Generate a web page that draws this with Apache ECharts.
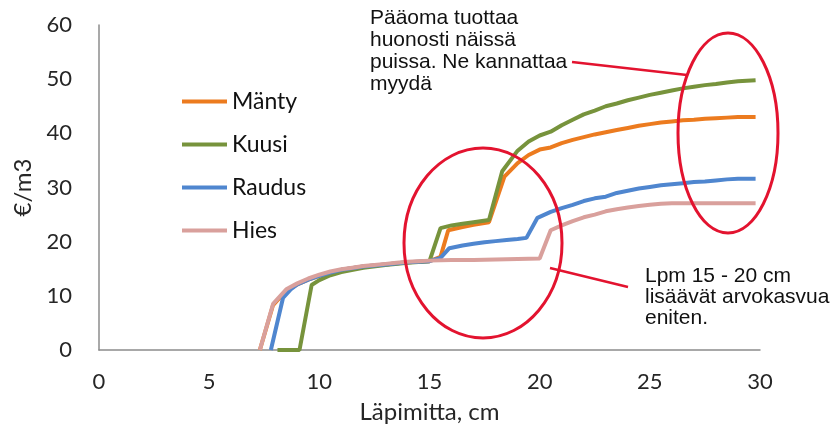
<!DOCTYPE html>
<html>
<head>
<meta charset="utf-8">
<script src="https://cdn.jsdelivr.net/npm/echarts@6/dist/echarts.min.js"></script>
<style>
  html, body { margin: 0; padding: 0; background: #fff; }
  #main { width: 834px; height: 433px; }
</style>
</head>
<body>
<div id="main"></div>
<script>
// läpimitta (cm) ja arvo (€/m3), luettu kuvasta
var manty = [[7.3,0],[7.9,8.3],[8.5,11],[9,12.1],[9.5,13],[10,13.7],[10.5,14.3],[11,14.8],[12,15.4],[13,15.8],[14,16.2],[15,16.4],[15.5,17.2],[15.85,22.1],[16.5,22.7],[17,23.1],[17.7,23.6],[18.4,32],[19,34.5],[19.5,36],[20,37],[20.5,37.4],[21,38.2],[21.5,38.8],[22,39.3],[22.5,39.8],[23,40.2],[23.5,40.6],[24,41],[24.5,41.4],[25,41.7],[25.5,42],[26,42.2],[26.5,42.4],[27,42.5],[27.5,42.7],[28,42.8],[28.5,42.9],[29,43],[29.8,43]];
var kuusi = [[8.1,0],[9.1,0],[9.65,12],[10,12.9],[10.5,13.8],[11,14.4],[12,15.2],[13,15.7],[14,16.1],[15,16.4],[15.5,22.5],[16,23],[16.5,23.3],[17,23.6],[17.7,24],[18.3,33],[19,36.8],[19.5,38.5],[20,39.6],[20.5,40.3],[21,41.5],[21.5,42.5],[22,43.5],[22.5,44.2],[23,45],[23.5,45.5],[24,46.1],[24.5,46.6],[25,47.1],[25.5,47.5],[26,47.9],[26.5,48.3],[27,48.6],[27.5,48.9],[28,49.1],[28.5,49.4],[29,49.6],[29.8,49.8]];
var raudus = [[7.8,0],[8.35,9.6],[8.7,11.2],[9,12.1],[9.5,13],[10,13.7],[10.5,14.3],[11,14.8],[12,15.4],[13,15.8],[14,16.2],[15,16.4],[15.5,17],[15.9,18.8],[16.5,19.3],[17,19.6],[17.5,19.9],[18,20.1],[18.5,20.3],[19,20.5],[19.4,20.7],[19.9,24.4],[20.5,25.5],[21,26.2],[21.5,26.8],[22,27.5],[22.5,28],[23,28.3],[23.5,29],[24,29.4],[24.5,29.8],[25,30.1],[25.5,30.4],[26,30.6],[26.5,30.8],[27,31],[27.5,31.1],[28,31.3],[28.5,31.5],[29,31.6],[29.8,31.6]];
var hies = [[7.3,0],[7.9,8.5],[8.5,11.2],[9,12.3],[9.5,13.2],[10,13.9],[10.5,14.5],[11,14.9],[11.5,15.2],[12,15.5],[12.5,15.7],[13,15.9],[13.5,16.1],[14,16.3],[14.5,16.4],[15,16.5],[16,16.6],[17,16.6],[18,16.7],[19,16.8],[20,16.9],[20.5,22.1],[21,23],[21.5,23.8],[22,24.5],[22.5,25],[23,25.6],[23.5,26],[24,26.3],[24.5,26.6],[25,26.8],[25.5,27],[26,27.1],[27,27.1],[28,27.1],[29,27.1],[29.8,27.1]];
var nimet = ['Mänty', 'Kuusi', 'Raudus', 'Hies'];
var varit = ['#ec7b1f', '#77933c', '#4f86cf', '#d9a09c'];

var myChart = echarts.init(document.getElementById('main'));

var sarjat = [manty, kuusi, raudus, hies].map(function (d, i) {
  return {
    name: nimet[i],
    type: 'line',
    data: d,
    showSymbol: false,
    lineStyle: { width: 4, color: varit[i] },
    itemStyle: { color: varit[i] }
  };
});

var tekstiFontti = '21px "Liberation Sans", Arial, sans-serif';

var option = {
  animation: false,
  backgroundColor: '#fff',
  grid: { left: 99, right: 74, top: 25, bottom: 83 },
  legend: {
    data: nimet,
    orient: 'vertical',
    left: 182,
    top: 90,
    padding: 0,
    icon: 'rect',
    itemWidth: 45,
    itemHeight: 4,
    itemGap: 20,
    textStyle: { fontSize: 23, lineHeight: 22, color: '#111', fontFamily: 'Lato' }
  },
  xAxis: {
    type: 'value',
    min: 0, max: 30, interval: 5,
    name: 'Läpimitta, cm',
    nameLocation: 'middle',
    nameGap: 50,
    nameTextStyle: { fontSize: 24, color: '#262626', fontFamily: 'Lato' },
    axisLine: { lineStyle: { color: '#8c8c8c', width: 1.5 } },
    axisTick: { show: false },
    splitLine: { show: false },
    axisLabel: { fontSize: 22, color: '#262626', margin: 21, fontFamily: 'Lato' }
  },
  yAxis: {
    type: 'value',
    min: 0, max: 60, interval: 10,
    name: '€/m3',
    nameLocation: 'middle',
    nameGap: 64,
    nameTextStyle: { fontSize: 24, color: '#262626', fontFamily: 'Lato' },
    axisLine: { show: true, lineStyle: { color: '#8c8c8c', width: 1.5 } },
    axisTick: { show: false },
    splitLine: { show: false },
    axisLabel: { fontSize: 22, color: '#262626', margin: 27, fontFamily: 'Lato' }
  },
  series: sarjat,
  graphic: [
    { type: 'ellipse', shape: { cx: 483, cy: 243, rx: 79, ry: 95 }, style: { fill: 'none', stroke: '#e3132f', lineWidth: 3 }, z: 100 },
    { type: 'ellipse', shape: { cx: 728, cy: 133, rx: 50, ry: 100 }, style: { fill: 'none', stroke: '#e3132f', lineWidth: 3 }, z: 100 },
    { type: 'line', shape: { x1: 572, y1: 62, x2: 687, y2: 75 }, style: { stroke: '#e3132f', lineWidth: 2.5 }, z: 100 },
    { type: 'line', shape: { x1: 550, y1: 268, x2: 628, y2: 287 }, style: { stroke: '#e3132f', lineWidth: 2.5 }, z: 100 },
    { type: 'text', left: 370, top: 7, z: 100,
      style: { text: 'Pääoma tuottaa\nhuonosti näissä\npuissa. Ne kannattaa\nmyydä', font: tekstiFontti, lineHeight: 22, fill: '#111' } },
    { type: 'text', left: 645, top: 266, z: 100,
      style: { text: 'Lpm 15 - 20 cm\nlisäävät arvokasvua\neniten.', font: tekstiFontti, lineHeight: 21, fill: '#111' } }
  ]
};

myChart.setOption(option);
</script>
</body>
</html>
